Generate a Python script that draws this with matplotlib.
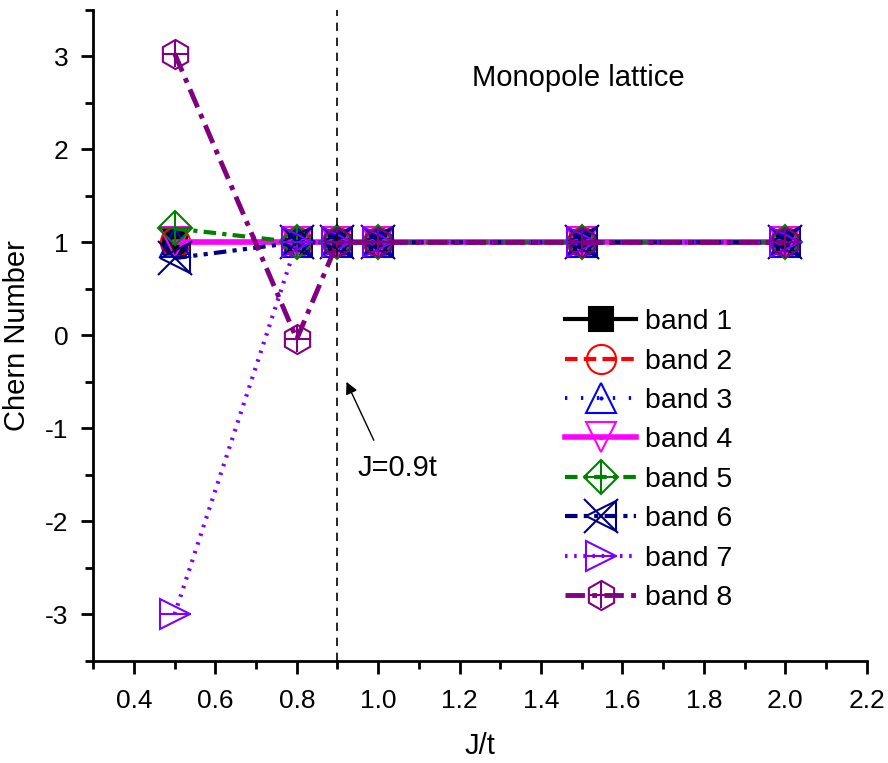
import matplotlib.pyplot as plt
from matplotlib.lines import Line2D

plt.rcParams['font.family'] = ['Liberation Sans', 'DejaVu Sans']
plt.rcParams['axes.unicode_minus'] = False

jt = [0.5, 0.8, 0.9, 1.0, 1.5, 2.0]
band1 = [1, 1, 1, 1, 1, 1]
band2 = [1, 1, 1, 1, 1, 1]
band3 = [1, 1, 1, 1, 1, 1]
band4 = [1, 1, 1, 1, 1, 1]
band5 = [1.15, 1, 1, 1, 1, 1]
band6 = [0.83, 1, 1, 1, 1, 1]
band7 = [-3, 1, 1, 1, 1, 1]
band8 = [3.03, -0.04, 1, 1, 1, 1]
labels = ['band 1', 'band 2', 'band 3', 'band 4', 'band 5', 'band 6', 'band 7', 'band 8']

# colour, line style, line width, markers (marker, size, filled)
styles = [
    ('black', '-', 3, [('s', 17, True)]),
    ('red', (0, (3, 1.5)), 3, [('o', 21, False)]),
    ('blue', (0, (0.6, 3.5)), 2.8, [('^', 21, False), ('.', 3, True)]),
    ('#FF00FF', '-', 4, [('v', 21, False), ('.', 5, True)]),
    ('green', (0, (3, 1.5, 1, 1.5)), 3, [('D', 17, False), ('+', 24, False)]),
    ('#000080', (0, (3, 1.5, 1, 1.5, 1, 1.5)), 3, [('<', 21, False), ('x', 25, False)]),
    ('#8000FF', (0, (0.6, 1.6)), 3, [('>', 21, False), ('_', 23, False)]),
    ('#800080', (0, (4, 1.5, 1, 1.5)), 3.5, [('h', 21, False), ('+', 19, False)]),
]
series = [band1, band2, band3, band4, band5, band6, band7, band8]

fig = plt.figure(figsize=(8.88, 7.63), dpi=100)
ax = fig.add_axes([0.105, 0.134, 0.871, 0.853])

handles = []
for ys, (color, ls, lw, marks) in zip(series, styles):
    ax.plot(jt, ys, linestyle=ls, linewidth=lw, color=color)
    parts = [Line2D([], [], linestyle=ls, linewidth=lw, color=color)]
    for m, ms, filled in marks:
        ax.plot(jt, ys, linestyle='none', marker=m, markersize=ms,
                markerfacecolor=color if filled else 'none',
                markeredgecolor=color, markeredgewidth=1.5)
        parts.append(Line2D([], [], linestyle='none', marker=m, markersize=ms,
                            markerfacecolor=color if filled else 'none',
                            markeredgecolor=color, markeredgewidth=1.5))
    handles.append(tuple(parts))

ax.axvline(0.9, color='black', linestyle=(0, (5, 4)), linewidth=1.2)

ax.text(1.23, 2.77, 'Monopole lattice', fontsize=21, va='center')
ax.annotate('J=0.9t', xy=(0.922, -0.5), xytext=(0.95, -1.43), fontsize=21,
            va='center',
            arrowprops=dict(arrowstyle='-|>', color='black', lw=1,
                            shrinkA=0, shrinkB=0, mutation_scale=18,
                            relpos=(0.2, 1.5)))

ax.set_xlim(0.3, 2.2)
ax.set_ylim(-3.5, 3.5)
ax.set_xticks([0.4, 0.6, 0.8, 1.0, 1.2, 1.4, 1.6, 1.8, 2.0, 2.2])
ax.set_xticks([0.3 + 0.2 * i for i in range(10)], minor=True)
ax.set_yticks([-3, -2, -1, 0, 1, 2, 3])
ax.set_yticks([-3.5, -2.5, -1.5, -0.5, 0.5, 1.5, 2.5, 3.5], minor=True)
ax.set_xticklabels(['0.4', '0.6', '0.8', '1.0', '1.2', '1.4', '1.6', '1.8', '2.0', '2.2'])
ax.tick_params(which='major', direction='out', length=9, width=2, labelsize=19, pad=9)
ax.tick_params(axis='x', which='major', pad=11)
ax.tick_params(which='minor', direction='out', length=6, width=2)
for side in ['top', 'right']:
    ax.spines[side].set_visible(False)
for side in ['left', 'bottom']:
    ax.spines[side].set_linewidth(2)

ax.set_xlabel('J/t', fontsize=21, labelpad=14)
ax.set_ylabel('Chern Number', fontsize=21, labelpad=10)

ax.legend(handles, labels, loc='upper left', bbox_to_anchor=(0.61, 0.54),
          frameon=False, fontsize=20.5, handlelength=2.5, labelspacing=0.47,
          handletextpad=0.3, borderaxespad=0, borderpad=0)

fig.savefig('out.png', dpi=100)
